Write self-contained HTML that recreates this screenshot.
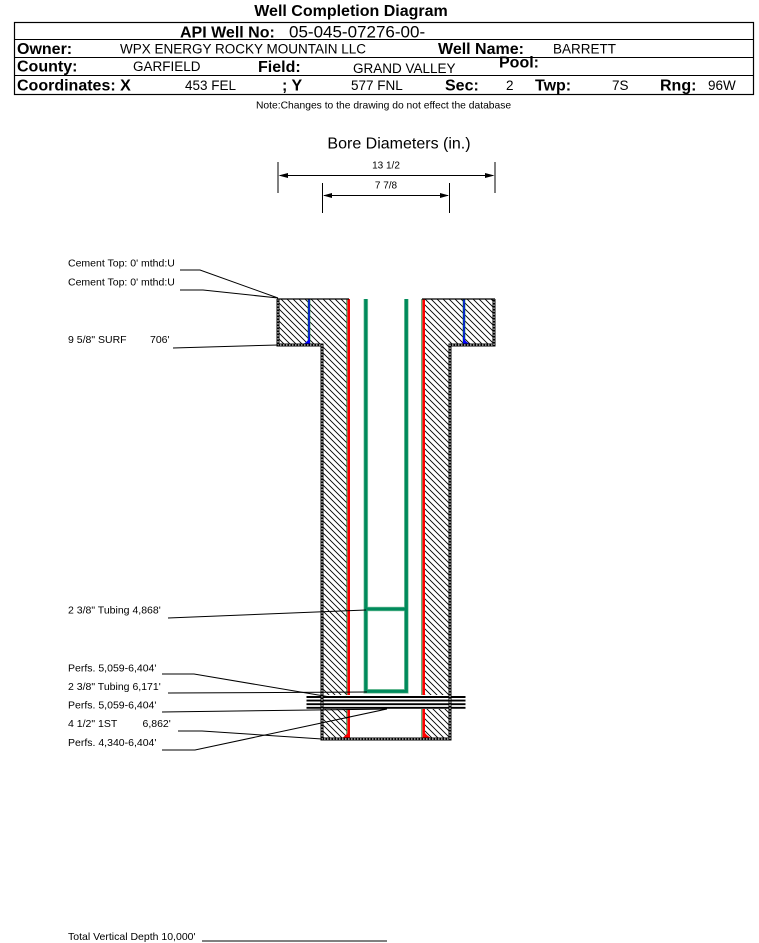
<!DOCTYPE html>
<html>
<head>
<meta charset="utf-8">
<style>
html,body{margin:0;padding:0;background:#fff;}
svg{display:block;}
text{font-family:"Liberation Sans",Arial,sans-serif;fill:#000;}
.b{font-weight:bold;font-size:16px;}
.v{font-size:13.5px;}
.l{font-size:10.5px;}
</style>
</head>
<body>
<svg width="759" height="943" viewBox="0 0 759 943" xmlns="http://www.w3.org/2000/svg">
<defs>
<pattern id="h" patternUnits="userSpaceOnUse" width="6" height="6">
<path d="M0,0 L6,6 M-1,5 L1,7 M5,-1 L7,1" stroke="#000" stroke-width="0.9"/>
</pattern>
</defs>

<!-- Header -->
<text x="351" y="16" class="b" text-anchor="middle">Well Completion Diagram</text>
<rect x="14.5" y="22.5" width="739" height="72" fill="none" stroke="#000" stroke-width="1.2"/>
<line x1="14.5" y1="39.5" x2="753.5" y2="39.5" stroke="#000" stroke-width="1"/>
<line x1="14.5" y1="57.5" x2="753.5" y2="57.5" stroke="#000" stroke-width="1"/>
<line x1="14.5" y1="75.5" x2="753.5" y2="75.5" stroke="#000" stroke-width="1"/>

<text x="180" y="37.5" class="b">API Well No:</text>
<text x="289" y="37.5" style="font-size:17px">05-045-07276-00-</text>

<text x="17" y="54" class="b">Owner:</text>
<text x="120" y="53.5" class="v">WPX ENERGY ROCKY MOUNTAIN LLC</text>
<text x="438" y="54" class="b">Well Name:</text>
<text x="553" y="53.5" class="v">BARRETT</text>

<text x="17" y="71.5" class="b">County:</text>
<text x="133" y="71" class="v">GARFIELD</text>
<text x="258" y="72" class="b">Field:</text>
<text x="353" y="73" class="v">GRAND VALLEY</text>
<text x="499" y="67.5" class="b">Pool:</text>

<text x="17" y="90.5" class="b">Coordinates: X</text>
<text x="185" y="90" class="v">453 FEL</text>
<text x="282" y="90.5" class="b">; Y</text>
<text x="351" y="90" class="v">577 FNL</text>
<text x="445" y="90.5" class="b">Sec:</text>
<text x="506" y="90" class="v">2</text>
<text x="535" y="90.5" class="b">Twp:</text>
<text x="612" y="90" class="v">7S</text>
<text x="660" y="90.5" class="b">Rng:</text>
<text x="708" y="90" class="v">96W</text>

<text x="256" y="108.5" style="font-size:10.3px">Note:Changes to the drawing do not effect the database</text>

<!-- Bore diameters -->
<text x="399" y="148.5" text-anchor="middle" style="font-size:16px">Bore Diameters (in.)</text>
<text x="386" y="168.5" text-anchor="middle" style="font-size:10px">13 1/2</text>
<text x="386" y="188.5" text-anchor="middle" style="font-size:10px">7 7/8</text>
<g stroke="#000" stroke-width="1">
<line x1="278" y1="162" x2="278" y2="193"/>
<line x1="495" y1="162" x2="495" y2="193"/>
<line x1="280" y1="175.5" x2="493" y2="175.5"/>
<line x1="322.5" y1="183" x2="322.5" y2="213"/>
<line x1="449.5" y1="183" x2="449.5" y2="213"/>
<line x1="324" y1="195.5" x2="448" y2="195.5"/>
</g>
<polygon points="278.5,175.5 288,173 288,178" fill="#000"/>
<polygon points="494.5,175.5 485,173 485,178" fill="#000"/>
<polygon points="323,195.5 332,193 332,198" fill="#000"/>
<polygon points="449,195.5 440,193 440,198" fill="#000"/>

<!-- Hatched cement -->
<rect x="278" y="299" width="69" height="46" fill="url(#h)"/>
<rect x="425" y="299" width="69" height="46" fill="url(#h)"/>
<rect x="322" y="345" width="25" height="350" fill="url(#h)"/>
<rect x="425" y="345" width="25" height="350" fill="url(#h)"/>
<rect x="322" y="709" width="25" height="30" fill="url(#h)"/>
<rect x="425" y="709" width="25" height="30" fill="url(#h)"/>

<!-- Surface casing (blue) -->
<line x1="309" y1="299" x2="309" y2="345" stroke="#1a8a3a" stroke-width="2.6"/>
<line x1="309" y1="299" x2="309" y2="345" stroke="#0000ff" stroke-width="1.4"/>
<line x1="464" y1="299" x2="464" y2="345" stroke="#1a8a3a" stroke-width="2.6"/>
<line x1="464" y1="299" x2="464" y2="345" stroke="#0000ff" stroke-width="1.4"/>
<path d="M300,345 L310,345 L310,336 Q308,343 300,345 Z" fill="#0000ff"/>
<path d="M463,336 L463,345 L473,345 Q465,343 463,336 Z" fill="#0000ff"/>

<!-- Production casing (red) -->
<g stroke-width="0.9" stroke="#1a8a3a">
<line x1="346.8" y1="299" x2="346.8" y2="695"/>
<line x1="346.8" y1="709" x2="346.8" y2="739"/>
<line x1="421.8" y1="299" x2="421.8" y2="695"/>
<line x1="421.8" y1="709" x2="421.8" y2="739"/>
</g>
<g stroke-width="2.6" stroke="#ff0000">
<line x1="348.7" y1="299" x2="348.7" y2="695"/>
<line x1="348.7" y1="709" x2="348.7" y2="739"/>
<line x1="423.7" y1="299" x2="423.7" y2="695"/>
<line x1="423.7" y1="709" x2="423.7" y2="739"/>
</g>
<path d="M340,739 L350,739 L350,729 Q347,736 340,739 Z" fill="#ff0000"/>
<path d="M422.5,729 L422.5,739 L433,739 Q426,736 422.5,729 Z" fill="#ff0000"/>

<!-- Tubing (green) -->
<g fill="none" stroke="#86c8a4" stroke-width="4.6">
<path d="M365.8,299 V691.3 H406.3 V299"/>
<line x1="365.8" y1="609" x2="406.3" y2="609"/>
</g>
<g fill="none" stroke="#008a5c" stroke-width="3.2">
<path d="M365.8,299 V691.3 H406.3 V299"/>
<line x1="365.8" y1="609" x2="406.3" y2="609"/>
</g>

<!-- Perforations -->
<g stroke="#000" stroke-width="1.9">
<line x1="306.5" y1="697" x2="465.5" y2="697"/>
<line x1="306.5" y1="700.6" x2="465.5" y2="700.6"/>
<line x1="306.5" y1="704.2" x2="465.5" y2="704.2"/>
<line x1="306.5" y1="707.8" x2="465.5" y2="707.8"/>
</g>

<!-- Bore outline -->
<path d="M278,299 V345 H322 V739 H450 V345 H494 V299" fill="none" stroke="#000" stroke-width="3"/>
<path d="M278,299 V345 H322 V739 H450 V345 H494 V299" fill="none" stroke="#fff" stroke-width="1" stroke-dasharray="1.5,1.5"/>
<line x1="277" y1="299" x2="349" y2="299" stroke="#000" stroke-width="1.2"/>
<line x1="422" y1="299" x2="495" y2="299" stroke="#000" stroke-width="1.2"/>

<!-- Leader lines -->
<g fill="none" stroke="#000" stroke-width="1">
<polyline points="180,270 200,270 278,298"/>
<polyline points="180,290 203,290 278,298"/>
<polyline points="173,348 278,345"/>
<polyline points="168,618 366,610"/>
<polyline points="162,674 194,674 330,697"/>
<polyline points="168,693 367,692"/>
<polyline points="162,712 387,709"/>
<polyline points="178,731 202,731 322,739"/>
<polyline points="162,750 195,750 387,709"/>
<polyline points="202,941 387,941"/>
</g>

<!-- Labels -->
<text x="68" y="266.5" class="l">Cement Top: 0' mthd:U</text>
<text x="68" y="285.5" class="l">Cement Top: 0' mthd:U</text>
<text x="68" y="343" class="l">9 5/8" SURF</text>
<text x="150" y="343" class="l">706'</text>
<text x="68" y="613.5" class="l">2 3/8" Tubing 4,868'</text>
<text x="68" y="671.5" class="l">Perfs. 5,059-6,404'</text>
<text x="68" y="690" class="l">2 3/8" Tubing 6,171'</text>
<text x="68" y="708.5" class="l">Perfs. 5,059-6,404'</text>
<text x="68" y="727" class="l">4 1/2" 1ST</text>
<text x="142.5" y="727" class="l">6,862'</text>
<text x="68" y="746" class="l">Perfs. 4,340-6,404'</text>
<text x="68" y="940" class="l">Total Vertical Depth 10,000'</text>
</svg>
</body>
</html>
